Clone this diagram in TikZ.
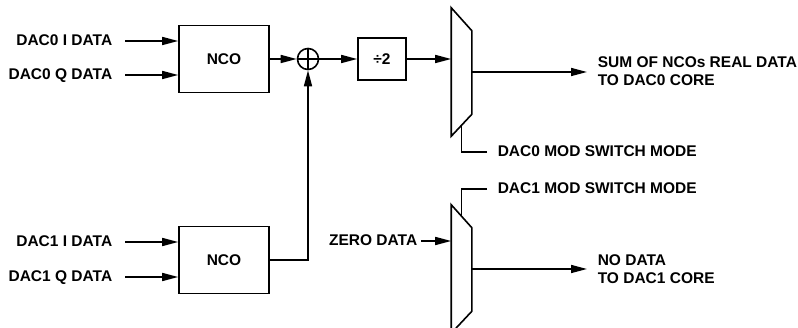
\documentclass[tikz,border=0pt]{standalone}
\usepackage{fontspec}
\usepackage{tikz}
\setmainfont{Liberation Sans}
\usetikzlibrary{shapes,arrows.meta,positioning,calc}

\begin{document}
\begin{tikzpicture}[
    x=1pt, y=-1pt,
    node distance=75pt,
    line width=1.6pt,
    every node/.style={align=left, inner sep=0pt, font=\fontsize{15.5}{18}\selectfont\bfseries},
    block/.style={rectangle, draw, minimum width=90pt, minimum height=67pt},
    divider/.style={rectangle, draw, minimum width=48pt, minimum height=42pt},
    adder/.style={circle, draw, minimum size=21pt},
    mux/.style={rectangle, minimum width=19pt, minimum height=127pt},
    label/.style={text height=11pt, text depth=1.5pt},
    arrow/.style={-{Stealth[length=16pt,width=8pt,inset=0pt]}},
    input/.style={arrow, shorten <=12pt},
    output/.style={arrow, shorten >=10pt},
    control/.style={shorten <=10pt}
]
\useasboundingbox (0,0) rectangle (798,328);

% Upper path
\node[block] (nco0) at (224,59) {NCO};
\node[adder, right of=nco0, xshift=9pt] (sum) {};
\node[divider, right of=sum, xshift=-1pt] (div2) {÷2};
\node[mux, right of=div2, xshift=4.5pt, yshift=-13pt] (mux0) {};
\node[label, anchor=east] (dac0i) at (113,41) {DAC0 I DATA};
\node[label, anchor=east] (dac0q) at (113,75) {DAC0 Q DATA};
\node[anchor=west] (sumout) at (597,71) {SUM OF NCOs REAL DATA\\TO DAC0 CORE};
\node[label, anchor=west] (mod0) at (497,152) {DAC0 MOD SWITCH MODE};

% Lower path
\node[block] (nco1) at (224,260) {NCO};
\node[mux] (mux1) at (461.5,269) {};
\node[label, anchor=east] (dac1i) at (113,242) {DAC1 I DATA};
\node[label, anchor=east] (dac1q) at (113,277) {DAC1 Q DATA};
\node[label, anchor=east] (zero) at (418,241) {ZERO DATA};
\node[anchor=west] (noout) at (597,269) {NO DATA\\TO DAC1 CORE};
\node[label, anchor=west] (mod1) at (497,189) {DAC1 MOD SWITCH MODE};

% Adder cross
\draw (sum.north) -- (sum.south);
\draw (sum.west) -- (sum.east);

% Mux outlines
\foreach \m in {mux0,mux1}
    \draw (\m.north west) -- ($(\m.north east)+(0,23)$) -- ($(\m.south east)+(0,-22)$) -- (\m.south west) -- cycle;

% Connections
\draw[input] (dac0i.east) -- (dac0i.east -| nco0.west);
\draw[input] (dac0q.east) -- (dac0q.east -| nco0.west);
\draw[input] (dac1i.east) -- (dac1i.east -| nco1.west);
\draw[input] (dac1q.east) -- (dac1q.east -| nco1.west);
\draw[arrow] (nco0) -- (sum);
\draw[arrow] (sum) -- (div2);
\draw[arrow] (div2.east) -- (div2.east -| mux0.west);
\draw[arrow] (nco1.east) -| (sum.south);
\draw[input, shorten <=3pt] (zero.east) -- (zero.east -| mux1.west);
\draw[output] (mux0.east) -- (mux0.east -| sumout.west);
\draw[output] (mux1.east) -- (mux1.east -| noout.west);
\draw[control] (mod0.west) -| ($(mux0.south)+(0,-11)$);
\draw[control] (mod1.west) -| ($(mux1.north)+(0,11)$);

\end{tikzpicture}
\end{document}
